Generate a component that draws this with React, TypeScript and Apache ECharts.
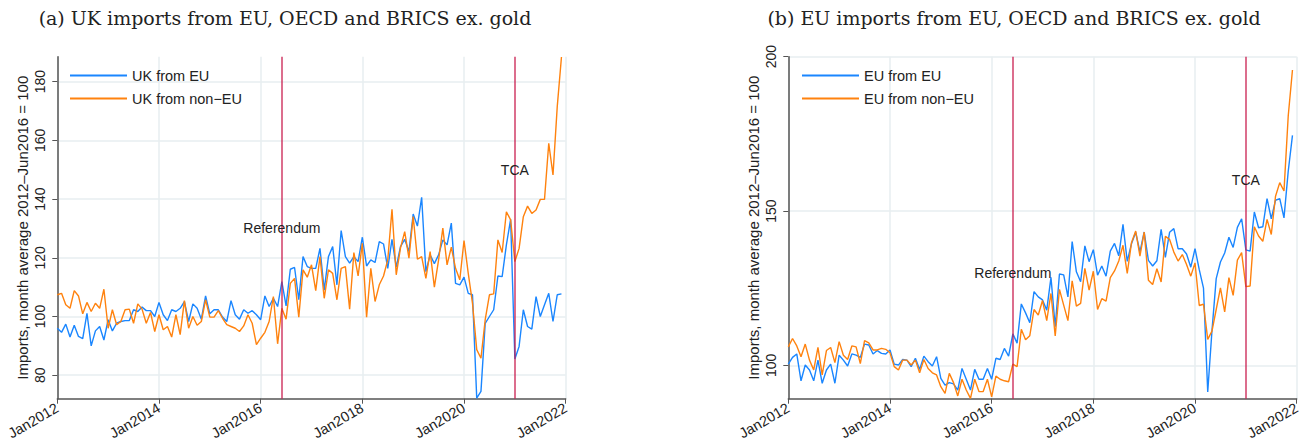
import React, { useEffect, useRef } from 'react';
import * as echarts from 'echarts';

// ---- categories (monthly, Jan2012 .. Dec2021) ----
const months: string[] = [];
for (let y = 2012; y <= 2021; y++) {
  for (let m = 1; m <= 12; m++) months.push(`${y}-${String(m).padStart(2, '0')}`);
}
const xTickLabels = ['Jan2012', 'Jan2014', 'Jan2016', 'Jan2018', 'Jan2020', 'Jan2022'];

// ---- series values ----
const ukFromEU = [
  96.0, 94.6, 97.4, 93.0, 97.0, 93.2, 92.5, 101.1, 90.0, 95.1, 96.6, 92.0,
  98.9, 95.1, 97.7, 98.3, 98.6, 98.6, 102.3, 101.7, 103.2, 102.0, 102.0, 100.0,
  104.8, 100.6, 98.6, 102.3, 101.7, 102.8, 105.1, 98.3, 104.3, 102.8, 99.1, 107.0,
  100.9, 102.3, 102.3, 99.8, 98.3, 105.4, 100.6, 99.1, 102.3, 101.1, 102.0, 100.6,
  98.9, 107.0, 103.4, 106.2, 103.4, 111.9, 103.6, 116.1, 116.7, 105.7, 120.4, 117.0,
  116.4, 116.4, 123.2, 109.0, 120.4, 123.8, 110.8, 129.3, 120.4, 118.2, 120.4, 118.7,
  127.0, 117.2, 119.3, 118.4, 125.5, 124.7, 116.4, 126.3, 116.8, 123.8, 126.3, 122.1,
  134.9, 130.8, 140.6, 115.3, 121.0, 118.0, 121.0, 126.1, 124.4, 131.8, 111.3, 110.8,
  113.4, 107.9, 107.4, 72.2, 74.5, 97.7, 100.0, 102.3, 113.8, 113.6, 124.4, 133.1,
  85.5, 89.8, 102.3, 96.6, 95.7, 106.8, 100.0, 104.0, 107.9, 98.3, 107.4, 107.7,
];
const ukFromNonEU = [
  107.4, 107.9, 104.0, 102.8, 108.8, 107.0, 100.9, 104.8, 101.7, 104.5, 102.8, 109.3,
  96.0, 102.3, 97.2, 98.3, 102.3, 102.5, 97.7, 104.3, 102.5, 97.7, 101.4, 94.9,
  100.6, 95.5, 96.6, 93.0, 100.6, 93.8, 105.4, 96.0, 100.0, 97.0, 98.3, 105.7,
  99.8, 99.8, 102.0, 99.4, 97.2, 96.6, 96.0, 94.9, 96.8, 100.6, 97.7, 90.4,
  92.6, 94.6, 98.3, 106.8, 90.7, 102.8, 99.1, 111.3, 113.0, 99.8, 115.9, 113.4,
  117.6, 108.8, 120.4, 106.2, 115.9, 114.7, 105.7, 116.4, 117.0, 102.5, 121.8, 113.8,
  124.9, 99.8, 116.4, 105.1, 110.8, 113.8, 119.3, 136.5, 114.2, 123.3, 128.9, 119.9,
  134.0, 119.5, 120.4, 113.0, 122.1, 110.0, 119.3, 130.1, 117.6, 123.6, 116.4, 112.5,
  125.9, 114.7, 104.5, 88.7, 85.8, 98.9, 107.4, 107.7, 126.1, 121.8, 135.7, 132.9,
  118.7, 123.2, 134.0, 137.6, 135.1, 136.3, 139.9, 139.9, 159.0, 148.2, 171.4, 188.4,
];
const euFromEU = [
  100.4, 102.6, 103.7, 95.0, 100.1, 98.5, 95.0, 101.7, 94.2, 98.5, 100.4, 94.2,
  103.3, 101.7, 99.8, 103.7, 103.3, 102.6, 106.9, 106.6, 103.7, 104.8, 103.9, 103.7,
  105.0, 100.4, 100.1, 101.9, 101.7, 99.6, 102.3, 98.7, 103.0, 101.2, 99.8, 102.8,
  95.8, 93.6, 94.4, 94.0, 92.0, 99.0, 95.5, 92.0, 98.7, 95.5, 95.5, 99.0,
  95.5, 102.3, 101.9, 105.5, 103.0, 110.2, 107.2, 119.9, 117.0, 113.8, 123.9, 122.2,
  121.2, 117.9, 128.5, 112.5, 129.6, 129.3, 122.2, 140.1, 130.3, 127.1, 138.7, 133.6,
  137.5, 129.2, 132.2, 128.9, 137.0, 139.5, 135.5, 145.7, 133.7, 139.4, 143.1, 136.8,
  143.2, 134.0, 132.2, 133.9, 144.1, 135.0, 143.1, 144.3, 137.8, 137.8, 136.1, 131.8,
  137.8, 131.0, 125.0, 91.4, 111.2, 128.1, 133.5, 136.4, 141.5, 138.2, 144.7, 147.5,
  137.4, 137.0, 149.7, 144.6, 144.9, 154.0, 147.5, 153.5, 154.0, 147.8, 162.9, 174.5,
];
const euFromNonEU = [
  106.0, 108.7, 106.3, 102.8, 106.9, 101.7, 98.5, 105.8, 96.9, 104.8, 105.8, 100.9,
  107.7, 103.3, 101.9, 106.3, 106.0, 100.6, 108.0, 107.3, 105.0, 105.0, 105.5, 105.2,
  104.1, 99.6, 98.5, 101.7, 101.7, 100.1, 101.7, 97.6, 101.9, 99.0, 97.6, 96.9,
  93.1, 90.9, 97.4, 94.4, 90.1, 95.5, 92.0, 89.3, 95.5, 91.5, 91.5, 95.5,
  89.8, 96.5, 95.5, 95.0, 94.7, 100.4, 99.6, 111.7, 108.3, 109.6, 118.1, 116.3,
  121.0, 114.5, 123.3, 109.5, 124.6, 119.5, 114.5, 127.4, 119.2, 120.1, 131.4, 124.4,
  130.5, 118.1, 121.6, 120.8, 128.4, 130.6, 133.8, 138.9, 129.8, 139.7, 143.5, 135.4,
  143.2, 127.6, 126.2, 131.3, 127.0, 141.8, 140.8, 136.7, 133.8, 135.9, 132.7, 128.9,
  133.2, 119.4, 119.8, 108.4, 111.1, 118.1, 125.1, 117.3, 128.4, 122.7, 134.1, 136.5,
  125.5, 125.7, 144.9, 141.9, 140.2, 147.3, 142.4, 154.8, 159.2, 156.5, 180.8, 195.7,
];

// ---- axis ticks ----
const leftYTicks = [80, 100, 120, 140, 160, 180];
const rightYTicks = [100, 150, 200];

// ---- events ----
const eventNames = ['Referendum', 'TCA'];
const eventMonths = ['2016-06', '2021-01'];
const leftEventLabelY = [130, 150];
const rightEventLabelY = [130, 160];

const titles = [
  '(a) UK imports from EU, OECD and BRICS ex. gold',
  '(b) EU imports from EU, OECD and BRICS ex. gold',
];
const yTitle = 'Imports, month average 2012\u2013Jun2016 = 100';

const SANS = '"Liberation Sans", Arial, sans-serif';
const BLUE = '#1a86ff';
const ORANGE = '#ff820e';
const RED = '#c81a4b';
const GRID = '#e7eef0';
const AXIS = '#555555';
const TXT = '#222222';

function xAxis(gridIndex: number) {
  return {
    type: 'value', gridIndex, min: 0, max: 120, interval: 24,
    axisLine: { show: true, onZero: false, lineStyle: { color: AXIS, width: 1.5 } },
    axisTick: { show: true, length: 5, lineStyle: { color: AXIS } },
    axisLabel: {
      rotate: 30, margin: 8, fontSize: 14.5, color: TXT, fontFamily: SANS,
      showMinLabel: true, showMaxLabel: true,
      formatter: (v: number) => xTickLabels[Math.round(v / 24)],
    },
    splitLine: { show: true, lineStyle: { color: GRID, width: 1.5 } },
  };
}

function yAxis(gridIndex: number, min: number, max: number, ticks: number[]) {
  return {
    type: 'value', gridIndex, min, max,
    name: yTitle, nameLocation: 'middle', nameGap: 27,
    nameTextStyle: { fontSize: 15, fontFamily: SANS, color: TXT },
    axisLine: { show: true, lineStyle: { color: AXIS, width: 1.5 } },
    axisTick: { show: true, length: 5, customValues: ticks, lineStyle: { color: AXIS } },
    axisLabel: { rotate: 90, margin: 10, customValues: ticks, fontSize: 14, color: TXT, fontFamily: SANS },
    splitLine: { show: true, lineStyle: { color: GRID, width: 1.5 } },
  };
}

function panelSeries(idx: number, names: string[], a: number[], b: number[], labelY: number[]) {
  const evIdx = eventMonths.map((d) => months.indexOf(d));
  return [
    {
      type: 'line', name: names[0], xAxisIndex: idx, yAxisIndex: idx,
      data: a.map((v, i) => [i, v]), showSymbol: false, symbol: 'none',
      lineStyle: { color: BLUE, width: 1.4 }, itemStyle: { color: BLUE },
    },
    {
      type: 'line', name: names[1], xAxisIndex: idx, yAxisIndex: idx,
      data: b.map((v, i) => [i, v]), showSymbol: false, symbol: 'none',
      lineStyle: { color: ORANGE, width: 1.4 }, itemStyle: { color: ORANGE },
      markLine: {
        silent: true, symbol: ['none', 'none'], label: { show: false },
        lineStyle: { color: RED, width: 1.5, type: 'solid', opacity: 0.85 },
        data: evIdx.map((x) => ({ xAxis: x })),
      },
      markPoint: {
        silent: true, symbol: 'circle', symbolSize: 1,
        itemStyle: { color: 'rgba(0,0,0,0)' },
        label: { show: true, position: 'inside', formatter: '{b}', color: TXT, fontSize: 14, fontFamily: SANS },
        data: eventNames.map((n, k) => ({ name: n, coord: [evIdx[k], labelY[k]] })),
      },
    },
  ];
}

function legend(left: number, names: string[]) {
  return {
    data: names, orient: 'vertical', left, top: 68, padding: 0,
    icon: 'rect', itemWidth: 57, itemHeight: 2, itemGap: 8, selectedMode: false,
    textStyle: { fontSize: 14.5, fontFamily: SANS, color: TXT },
  };
}

export default function App() {
  const ref = useRef<HTMLDivElement>(null);
  useEffect(() => {
    if (!ref.current) return;
    const chart = echarts.init(ref.current, undefined, { renderer: 'svg' });
    const leftNames = ['UK from EU', 'UK from non\u2212EU'];
    const rightNames = ['EU from EU', 'EU from non\u2212EU'];
    const titleFont = '19px "DejaVu Serif", serif';
    chart.setOption({
      animation: false,
      backgroundColor: '#ffffff',
      grid: [
        { left: 57.3, top: 56.7, width: 508.4, height: 342, containLabel: false },
        { left: 788.3, top: 56.7, width: 508.4, height: 342, containLabel: false },
      ],
      xAxis: [xAxis(0), xAxis(1)],
      yAxis: [yAxis(0, 72, 188.5, leftYTicks), yAxis(1, 89.2, 200, rightYTicks)],
      legend: [legend(70, leftNames), legend(802, rightNames)],
      graphic: [
        {
          type: 'text', x: 285, y: 18,
          style: { text: titles[0], font: titleFont, fill: TXT, align: 'center', verticalAlign: 'middle', textAlign: 'center', textVerticalAlign: 'middle' },
        },
        {
          type: 'text', x: 1014, y: 18,
          style: { text: titles[1], font: titleFont, fill: TXT, align: 'center', verticalAlign: 'middle', textAlign: 'center', textVerticalAlign: 'middle' },
        },
      ],
      series: [
        ...panelSeries(0, leftNames, ukFromEU, ukFromNonEU, leftEventLabelY),
        ...panelSeries(1, rightNames, euFromEU, euFromNonEU, rightEventLabelY),
      ],
    });
    return () => chart.dispose();
  }, []);
  return <div ref={ref} style={{ position: 'absolute', left: 0, top: 0, width: '1308px', height: '444px' }} />;
}
